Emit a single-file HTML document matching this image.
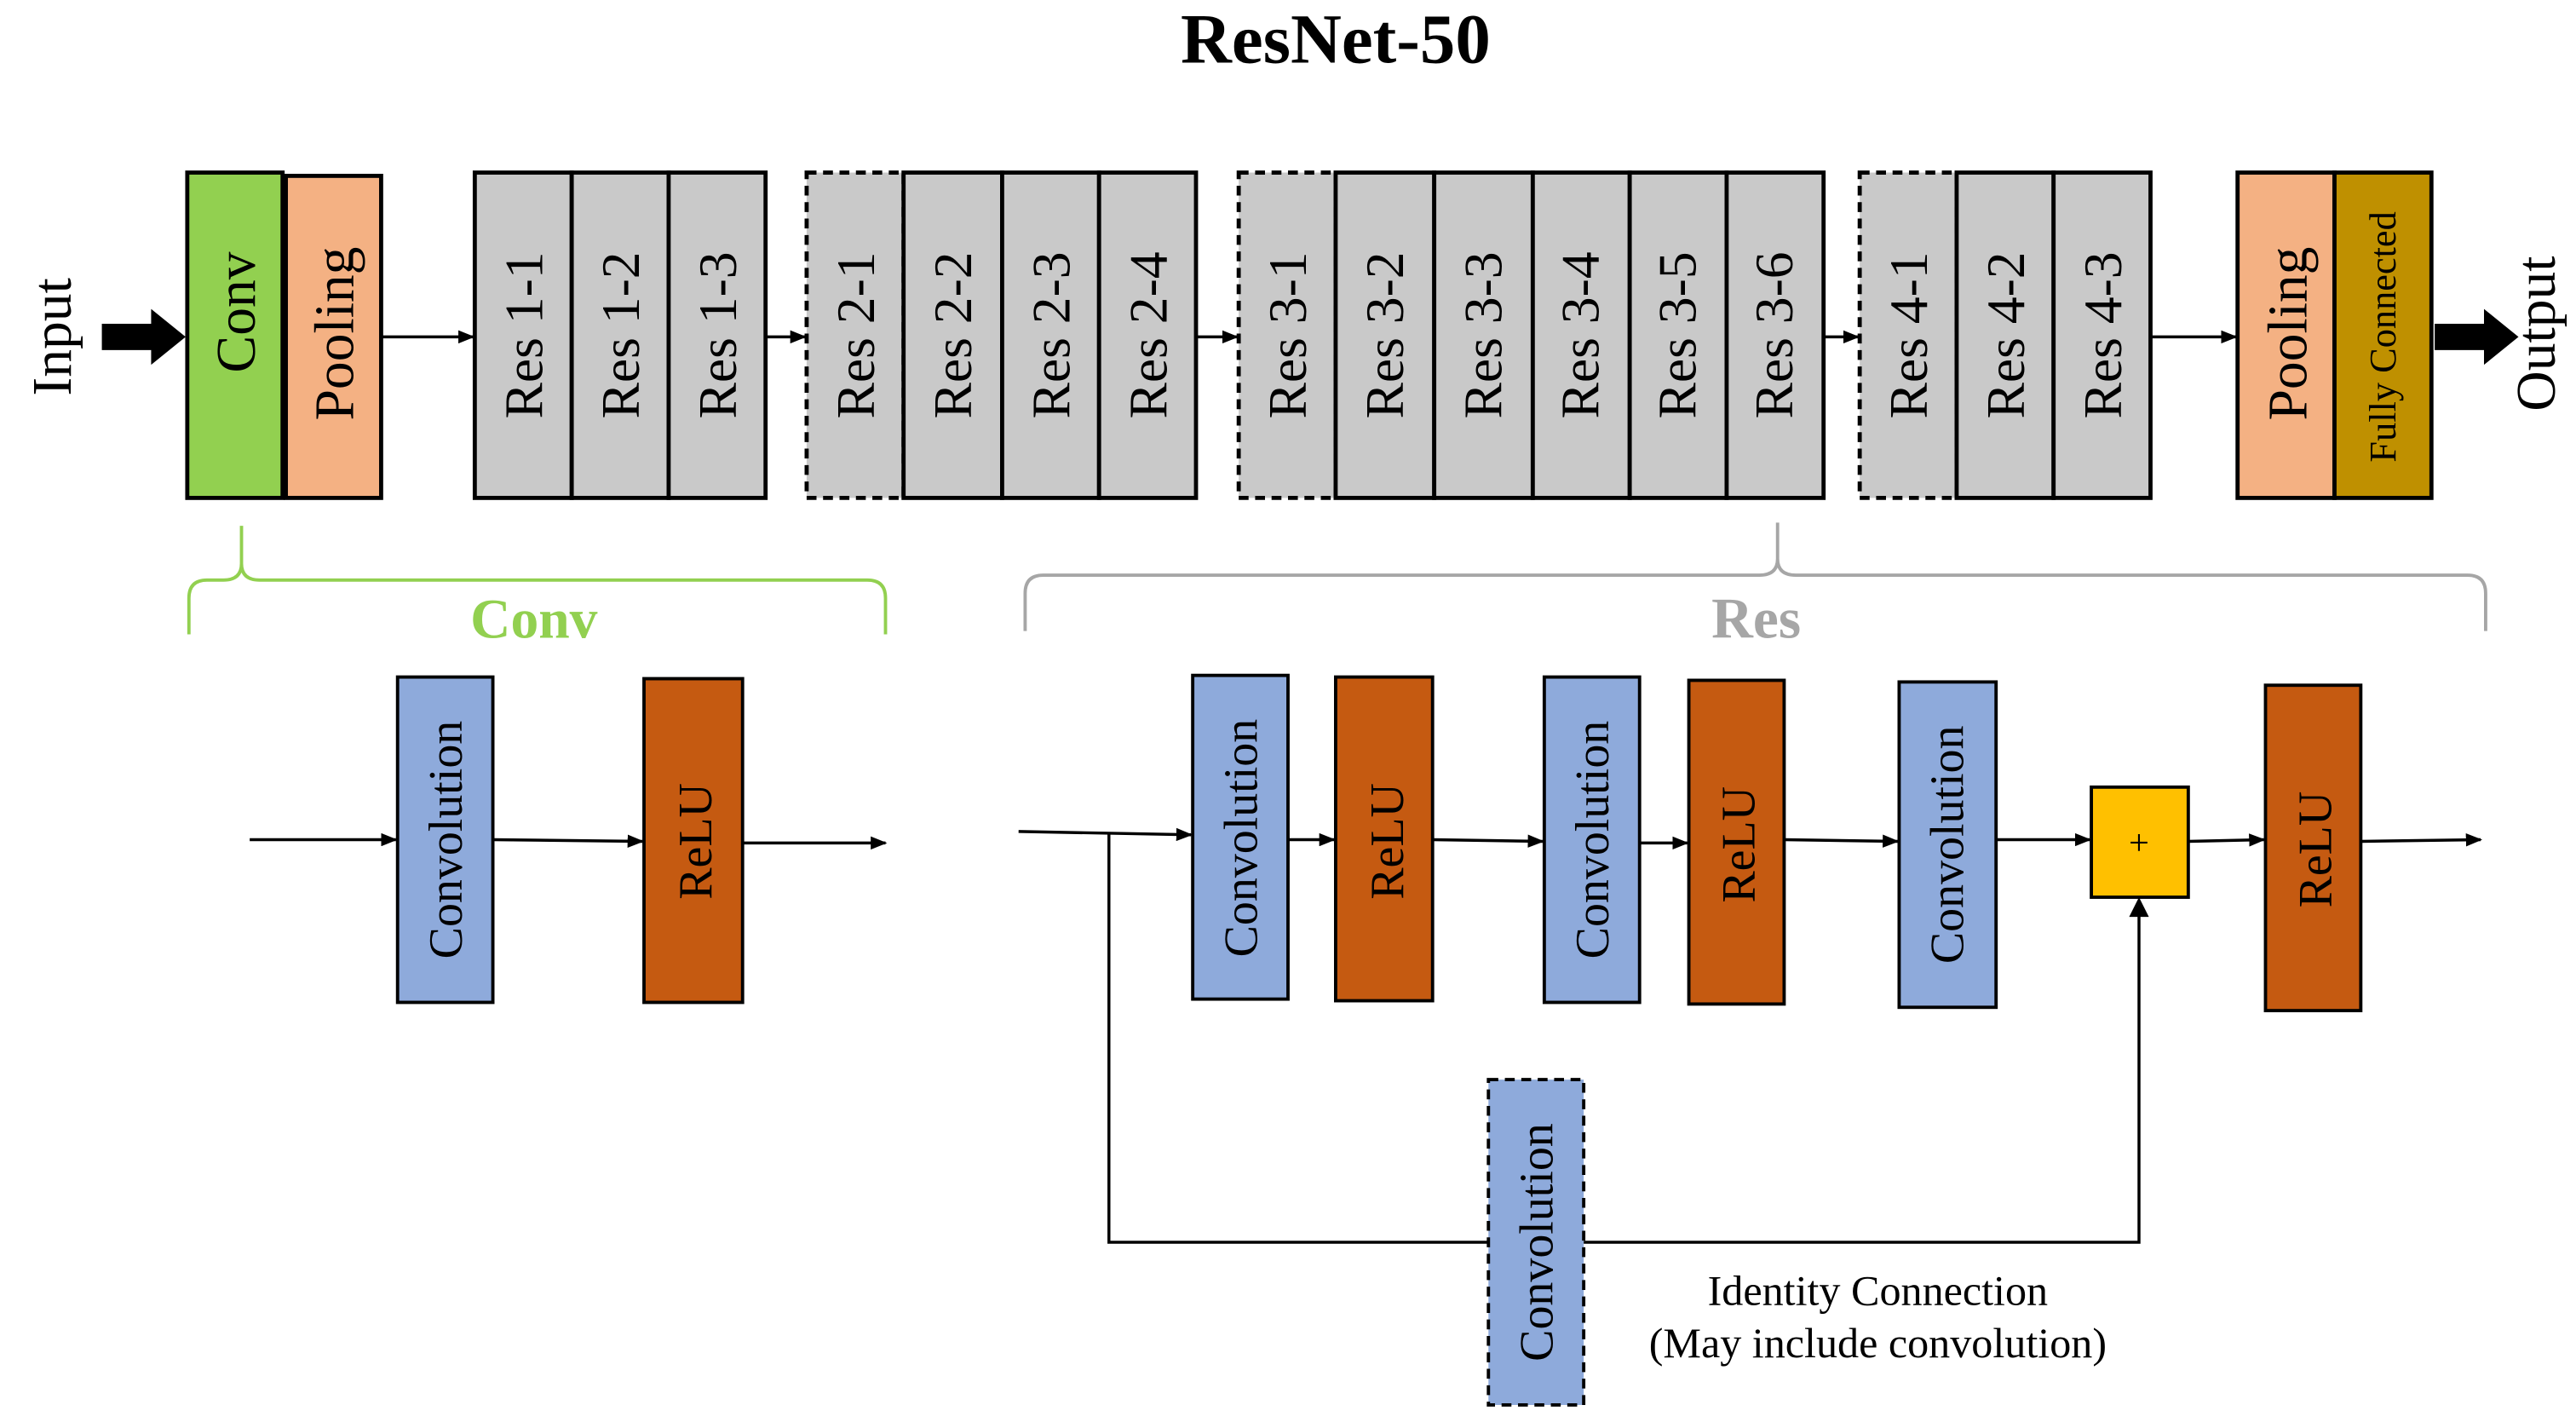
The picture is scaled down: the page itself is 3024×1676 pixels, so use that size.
<!DOCTYPE html>
<html><head><meta charset="utf-8"><style>html,body{margin:0;padding:0;background:#fff}svg{display:block}</style></head><body>
<svg width="3024" height="1676" viewBox="0 0 1568 869" xmlns="http://www.w3.org/2000/svg" font-family="Liberation Serif, serif">
<defs><marker id="a" markerWidth="10" markerHeight="8" refX="9" refY="4" orient="auto" markerUnits="userSpaceOnUse"><path d="M0,0L10,4L0,8z" fill="#000"/></marker></defs>
<text x="813" y="38" font-size="43" font-weight="bold" text-anchor="middle">ResNet-50</text>
<text transform="translate(43,205) rotate(-90)" font-size="34" text-anchor="middle">Input</text>
<path d="M62,197H92V188L113,205L92,222V213H62z" fill="#000"/>
<path d="M1482,197H1512V188L1533,205L1512,222V213H1482z" fill="#000"/>
<text transform="translate(1555,203) rotate(-90)" font-size="34" text-anchor="middle">Output</text>
<g stroke="#000" stroke-width="2.5">
<rect x="114" y="105" width="58" height="198" fill="#92d050"/>
<rect x="174" y="107" width="58" height="196" fill="#f4b183"/>
<rect x="1362" y="105" width="59" height="198" fill="#f4b183"/>
<rect x="1421" y="105" width="59" height="198" fill="#bf9000"/>
</g>
<g stroke="#000" stroke-width="2.5" fill="#c9c9c9">
<rect x="289" y="105" width="59" height="198"/><rect x="348" y="105" width="59" height="198"/><rect x="407" y="105" width="59" height="198"/>
<rect x="491" y="105" width="59" height="198" stroke-dasharray="6,4"/><rect x="550" y="105" width="60" height="198"/><rect x="610" y="105" width="59" height="198"/><rect x="669" y="105" width="59" height="198"/>
<rect x="754" y="105" width="59" height="198" stroke-dasharray="6,4"/><rect x="813" y="105" width="60" height="198"/><rect x="873" y="105" width="60" height="198"/><rect x="933" y="105" width="59" height="198"/><rect x="992" y="105" width="59" height="198"/><rect x="1051" y="105" width="59" height="198"/>
<rect x="1132" y="105" width="59" height="198" stroke-dasharray="6,4"/><rect x="1191" y="105" width="59" height="198"/><rect x="1250" y="105" width="59" height="198"/>
</g>
<g font-size="34" text-anchor="middle">
<text transform="translate(155,190) rotate(-90)">Conv</text>
<text transform="translate(215,203) rotate(-90)">Pooling</text>
<text transform="translate(1404,203) rotate(-90)">Pooling</text>
</g>
<text transform="translate(1458,205) rotate(-90)" font-size="23" text-anchor="middle">Fully Connected</text>
<g font-size="33" text-anchor="middle">
<text transform="translate(330,204) rotate(-90)">Res 1-1</text><text transform="translate(389,204) rotate(-90)">Res 1-2</text><text transform="translate(448,204) rotate(-90)">Res 1-3</text>
<text transform="translate(532,204) rotate(-90)">Res 2-1</text><text transform="translate(591,204) rotate(-90)">Res 2-2</text><text transform="translate(651,204) rotate(-90)">Res 2-3</text><text transform="translate(710,204) rotate(-90)">Res 2-4</text>
<text transform="translate(795,204) rotate(-90)">Res 3-1</text><text transform="translate(854,204) rotate(-90)">Res 3-2</text><text transform="translate(914,204) rotate(-90)">Res 3-3</text><text transform="translate(973,204) rotate(-90)">Res 3-4</text><text transform="translate(1032,204) rotate(-90)">Res 3-5</text><text transform="translate(1091,204) rotate(-90)">Res 3-6</text>
<text transform="translate(1173,204) rotate(-90)">Res 4-1</text><text transform="translate(1232,204) rotate(-90)">Res 4-2</text><text transform="translate(1291,204) rotate(-90)">Res 4-3</text>
</g>
<g stroke="#000" stroke-width="1.8" fill="none" marker-end="url(#a)">
<path d="M233,205H288"/><path d="M467,205H490"/><path d="M729,205H753"/><path d="M1111,205H1131"/><path d="M1310,205H1361"/>
</g>
<path d="M115,386V364Q115,353 126,353H136Q147,353 147,343V320M147,343Q147,353 158,353H528Q539,353 539,364V386" stroke="#92d050" stroke-width="2" fill="none"/>
<text x="325" y="388" font-size="34" font-weight="bold" fill="#92d050" text-anchor="middle">Conv</text>
<path d="M624,384V361Q624,350 635,350H1071Q1082,350 1082,340V318M1082,340Q1082,350 1093,350H1502Q1513,350 1513,361V384" stroke="#a6a6a6" stroke-width="2" fill="none"/>
<text x="1069" y="388" font-size="35" font-weight="bold" fill="#a6a6a6" text-anchor="middle">Res</text>
<g stroke="#000" stroke-width="2">
<rect x="242" y="412" width="58" height="198" fill="#8eaadb"/>
<rect x="392" y="413" width="60" height="197" fill="#c55a11"/>
<rect x="726" y="411" width="58" height="197" fill="#8eaadb"/>
<rect x="813" y="412" width="59" height="197" fill="#c55a11"/>
<rect x="940" y="412" width="58" height="198" fill="#8eaadb"/>
<rect x="1028" y="414" width="58" height="197" fill="#c55a11"/>
<rect x="1156" y="415" width="59" height="198" fill="#8eaadb"/>
<rect x="1273" y="479" width="59" height="67" fill="#ffc000"/>
<rect x="1379" y="417" width="58" height="198" fill="#c55a11"/>
<rect x="906" y="657" width="58" height="198" fill="#8eaadb" stroke-dasharray="6,4"/>
</g>
<g font-size="29" text-anchor="middle">
<text transform="translate(281,511) rotate(-90)">Convolution</text>
<text transform="translate(433,512) rotate(-90)">ReLU</text>
<text transform="translate(765,510) rotate(-90)">Convolution</text>
<text transform="translate(854,512) rotate(-90)">ReLU</text>
<text transform="translate(979,511) rotate(-90)">Convolution</text>
<text transform="translate(1068,514) rotate(-90)">ReLU</text>
<text transform="translate(1195,514) rotate(-90)">Convolution</text>
<text transform="translate(1419,517) rotate(-90)">ReLU</text>
<text transform="translate(945,756) rotate(-90)">Convolution</text>
</g>
<text x="1302" y="520" font-size="22" text-anchor="middle">+</text>
<g stroke="#000" stroke-width="1.8" fill="none" marker-end="url(#a)">
<path d="M152,511H241"/><path d="M300,511L391,512"/><path d="M452,513H539"/>
<path d="M620,506L725,508"/><path d="M784,511H812"/><path d="M872,511L939,512"/><path d="M998,513H1027"/><path d="M1086,511L1155,512"/><path d="M1215,511H1272"/><path d="M1332,512L1378,511"/><path d="M1437,512L1510,511"/>
</g>
<path d="M675,507V756H906M964,756H1302V556" stroke="#000" stroke-width="1.8" fill="none"/>
<path d="M1296,558L1302,546L1308,558z" fill="#000"/>
<text x="1143" y="794" font-size="26" text-anchor="middle">Identity Connection</text>
<text x="1143" y="826" font-size="26" text-anchor="middle">(May include convolution)</text>
</svg>
</body></html>
